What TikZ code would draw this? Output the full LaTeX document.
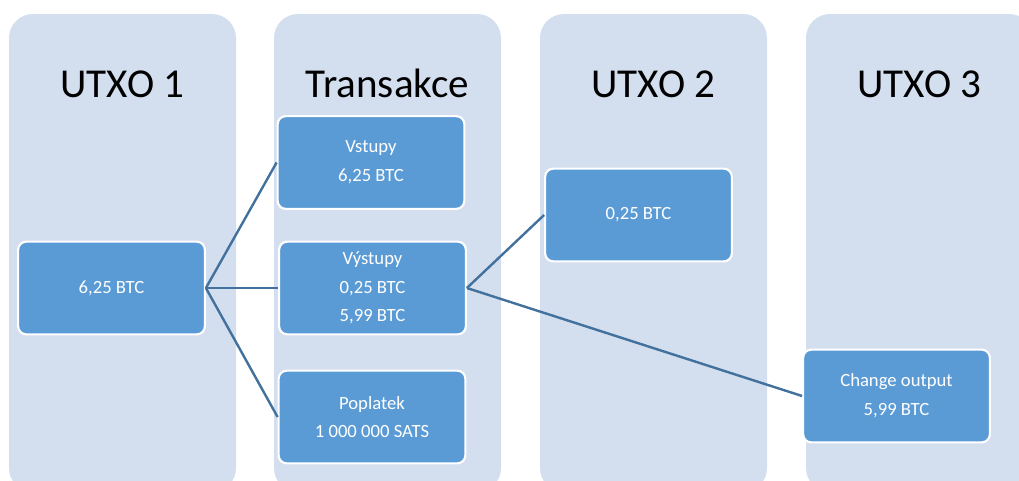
\documentclass[tikz,border=0pt]{standalone}
\usepackage{fontspec}
\setmainfont{Carlito}
\definecolor{colbg}{RGB}{211,222,239}
\definecolor{boxfill}{RGB}{91,155,213}
\definecolor{linec}{RGB}{65,113,156}
\begin{document}
\begin{tikzpicture}[x=0.75pt,y=-0.75pt,
  colbox/.style={fill=colbg, rounded corners=18pt},
  title/.style={anchor=base, font=\fontsize{30.8}{36}\selectfont, text=black, inner sep=0pt},
  box/.style={draw=white, line width=1.6pt, fill=boxfill, rounded corners=6pt,
    minimum width=140pt, minimum height=69.5pt, text=white, align=center,
    font=\fontsize{14}{21.5}\selectfont, inner sep=2pt},
  link/.style={draw=linec, line width=1.8pt}]
\useasboundingbox (0,0) rectangle (1019,480);
\begin{scope}
\clip (0,0) rectangle (1019,480);
\fill[colbox] (9,14) rectangle (236,492);
\fill[colbox] (274,14) rectangle (501,492);
\fill[colbox] (540,14) rectangle (767,492);
\fill[colbox] (806,14) rectangle (1033,492);
\end{scope}
\node[title] (t1) at (122.5,97) {UTXO 1};
\node[title] (t2) at (387.5,97) {Transakce};
\node[title] (t3) at (653.5,97) {UTXO 2};
\node[title] (t4) at (919.5,97) {UTXO 3};
\node[box] (a) at (111.5,288) {6,25 BTC};
\node[box] (vin) at (371,162.5) {Vstupy\\6,25 BTC};
\node[box] (vout) at (372.5,288) {Výstupy\\0,25 BTC\\5,99 BTC};
\node[box] (fee) at (372,417) {Poplatek\\1 000 000 SATS};
\node[box] (u2) at (638.5,215) {0,25 BTC};
\node[box] (chg) at (896.5,396) {Change output\\5,99 BTC};
\draw[link] (a.east) -- (vin.west);
\draw[link] (a.east) -- (vout.west);
\draw[link] (a.east) -- (fee.west);
\draw[link] (vout.east) -- (u2.west);
\draw[link] (vout.east) -- (chg.west);
\end{tikzpicture}
\end{document}
